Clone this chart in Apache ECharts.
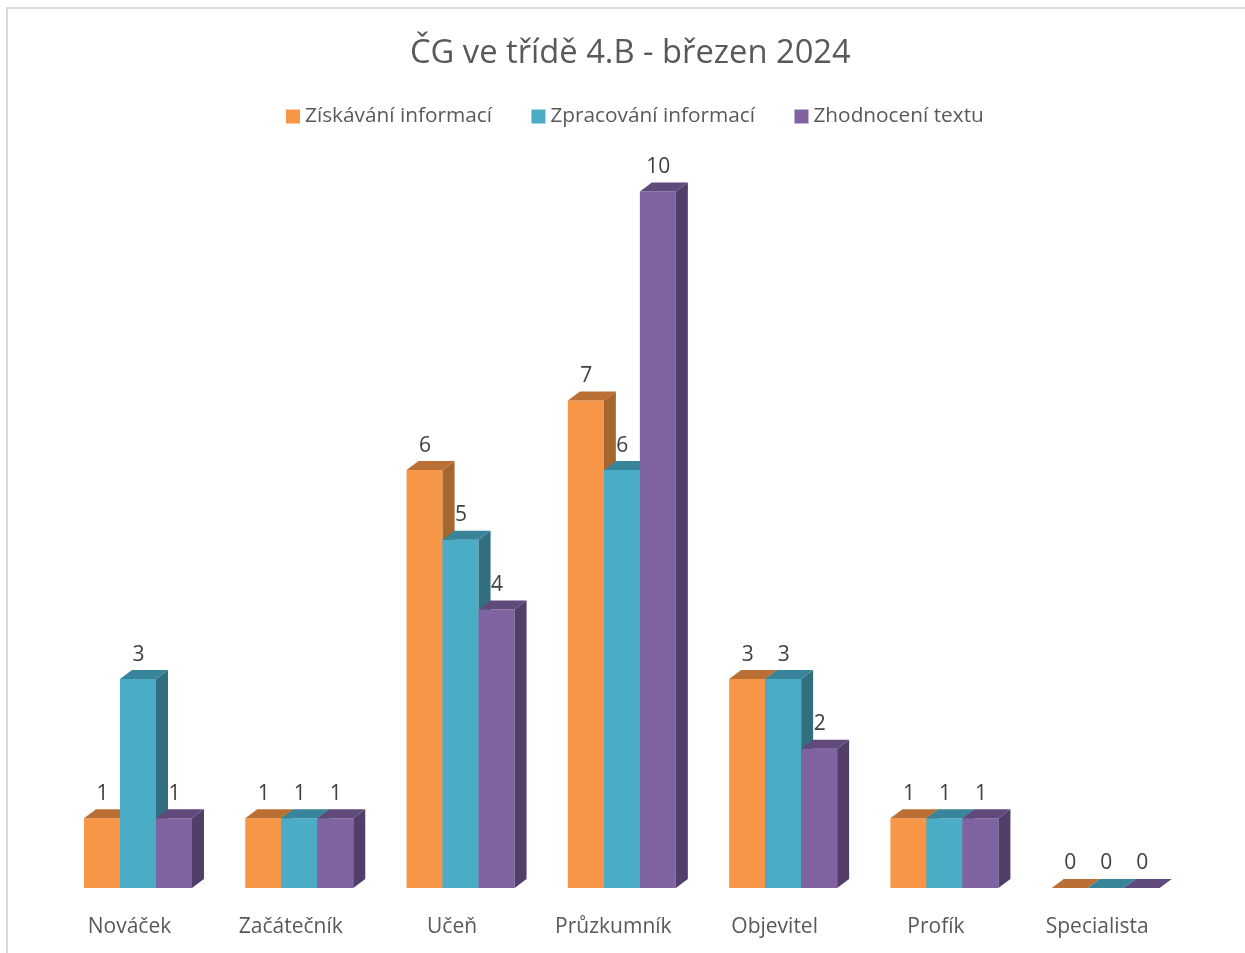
<!DOCTYPE html>
<html>
<head>
<meta charset="utf-8">
<title>ČG ve třídě 4.B</title>
<script src="https://cdn.jsdelivr.net/npm/echarts@6/dist/echarts.min.js"></script>
<style>
body{margin:0;background:#fff;}
#main{width:1245px;height:953px;}
</style>
</head>
<body>
<div id="main"></div>
<script>
var kategorie = ['Nováček', 'Začátečník', 'Učeň', 'Průzkumník', 'Objevitel', 'Profík', 'Specialista'];
var ziskavani = [1, 1, 6, 7, 3, 1, 0];
var zpracovani = [3, 1, 5, 6, 3, 1, 0];
var zhodnoceni = [1, 1, 4, 10, 2, 1, 0];
var nazvy = ['Získávání informací', 'Zpracování informací', 'Zhodnocení textu'];
var font = '"Open Sans", sans-serif';

// sloupec 3D: predni stena, bok, vrsek + popisek
function sloupec(poradi, barvy) {
    return function (params, api) {
        var kat = api.value(0);
        var hodnota = api.value(1);
        var dole = api.coord([kat, 0]);
        var nahore = api.coord([kat, hodnota]);
        var sirkaKat = api.size([1, 0])[0];
        var w = sirkaKat * 0.2232;
        var x = dole[0] - w * 1.5 + w * poradi;
        var dx = 12, dy = 9;
        var deti = [];
        if (hodnota > 0) {
            deti.push({
                type: 'rect',
                shape: {x: x, y: nahore[1], width: w, height: dole[1] - nahore[1]},
                style: {fill: barvy[0]}
            });
            deti.push({
                type: 'polygon',
                shape: {points: [[x + w, nahore[1]], [x + w + dx, nahore[1] - dy], [x + w + dx, dole[1] - dy], [x + w, dole[1]]]},
                style: {fill: barvy[2]}
            });
        }
        deti.push({
            type: 'polygon',
            shape: {points: [[x, nahore[1]], [x + dx, nahore[1] - dy], [x + w + dx, nahore[1] - dy], [x + w, nahore[1]]]},
            style: {fill: barvy[1]}
        });
        deti.push({
            type: 'text',
            z2: 50,
            style: {
                x: x + w / 2 + 0.5,
                y: nahore[1] - 24.5,
                text: String(hodnota),
                fill: '#404040',
                font: '21px ' + font,
                align: 'center',
                verticalAlign: 'middle'
            }
        });
        return {type: 'group', children: deti};
    };
}

function serie(jmeno, hodnoty, poradi, barvy) {
    return {
        type: 'custom',
        name: jmeno,
        itemStyle: {color: barvy[0]},
        encode: {x: 0, y: 1},
        data: hodnoty.map(function (v, i) { return [i, v]; }),
        renderItem: sloupec(poradi, barvy)
    };
}

var myChart = echarts.init(document.getElementById('main'));
var option = {
    animation: false,
    title: {
        text: 'ČG ve třídě 4.B - březen 2024',
        left: 405,
        top: 32,
        textStyle: {color: '#595959', fontSize: 32.7, fontWeight: 'normal', fontFamily: font}
    },
    legend: {
        data: nazvy,
        left: 281,
        top: 101,
        icon: 'rect',
        itemWidth: 14,
        itemHeight: 14,
        itemGap: 39.5,
        textStyle: {color: '#595959', fontSize: 20.8, fontFamily: font, padding: [0, 0, 0, 0]}
    },
    grid: {left: 57.35, width: 1129, top: 52.2, height: 835.8},
    xAxis: {
        type: 'category',
        data: kategorie,
        axisLine: {show: false},
        axisTick: {show: false},
        axisLabel: {color: '#595959', fontSize: 21, fontFamily: font, margin: 28.5, padding: [0, 17, 0, 0], interval: 0}
    },
    yAxis: {type: 'value', min: 0, max: 12, show: false},
    graphic: [
        {type: 'rect', silent: true, shape: {x: 6, y: 7, width: 2, height: 946}, style: {fill: '#d9d9d9'}},
        {type: 'rect', silent: true, shape: {x: 6, y: 7, width: 1239, height: 2}, style: {fill: '#d9d9d9'}}
    ],
    series: [
        serie(nazvy[0], ziskavani, 0, ['#F79646', '#BA7034', '#A6662F']),
        serie(nazvy[1], zpracovani, 1, ['#4BACC6', '#38849A', '#316F80']),
        serie(nazvy[2], zhodnoceni, 2, ['#8064A2', '#604A7B', '#523F69'])
    ]
};
myChart.setOption(option);
</script>
</body>
</html>
